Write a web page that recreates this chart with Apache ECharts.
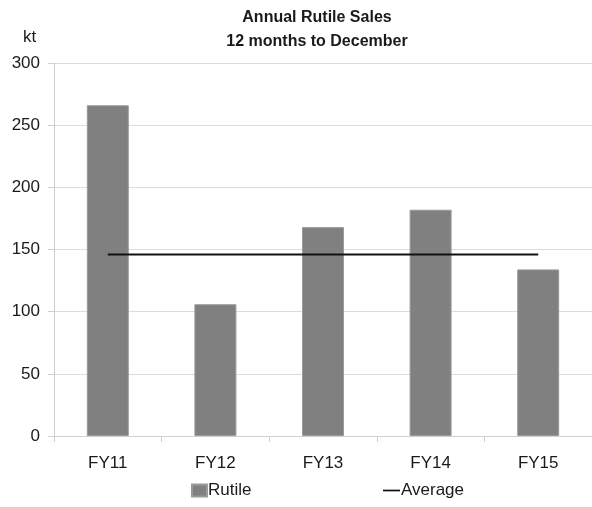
<!DOCTYPE html>
<html><head><meta charset="utf-8">
<script src="https://cdn.jsdelivr.net/npm/echarts@6/dist/echarts.min.js"></script>
<style>html,body{margin:0;padding:0;background:#fff}#c{width:592px;height:507px}</style>
</head><body><div id="c"></div>
<script>
const categories = ['FY11','FY12','FY13','FY14','FY15'];
const rutile = [266, 106, 168, 182, 134];
const average = [146, 146, 146, 146, 146];
const yTicks = [0, 50, 100, 150, 200, 250, 300];

const FONT = '"Liberation Sans Narrow","Arial Narrow","Liberation Sans",Arial,sans-serif';
const chart = echarts.init(document.getElementById('c'));
const legendText = { fontFamily: FONT, fontSize: 17, color: '#1a1a1a', padding: [0,0,0,-4] };
chart.setOption({
  animation: false,
  backgroundColor: '#fff',
  textStyle: { fontFamily: FONT },
  title: [
    { text: 'Annual Rutile Sales\n12 months to December', left: 312, top: 1, textAlign: 'center',
      textStyle: { fontFamily: FONT, fontSize: 16, fontWeight: 'bold', color: '#1a1a1a', lineHeight: 24 } },
    { text: 'kt', left: 18, top: 24,
      textStyle: { fontFamily: FONT, fontSize: 17, fontWeight: 'normal', color: '#1a1a1a' } }
  ],
  legend: [
    { left: 186, bottom: 3, itemWidth: 15, itemHeight: 12, textStyle: legendText,
      data: [{ name: 'Rutile', icon: 'rect' }] },
    { left: 378, bottom: 3, itemWidth: 17, itemHeight: 12, textStyle: legendText,
      data: [{ name: 'Average', icon: 'path://M0,5L20,5L20,7L0,7Z' }] }
  ],
  grid: { left: 54, right: -2, top: 63, bottom: 71, containLabel: false },
  xAxis: {
    type: 'category', data: categories,
    axisLine: { lineStyle: { color: '#d0d0d0', width: 1 } },
    axisTick: { show: true, length: 6, lineStyle: { color: '#d0d0d0' } },
    axisLabel: { fontFamily: FONT, fontSize: 17, color: '#1a1a1a', margin: 19 }
  },
  yAxis: {
    type: 'value', min: 0, max: 300, interval: 50,
    axisLine: { show: true, lineStyle: { color: '#d0d0d0', width: 1 } },
    axisTick: { show: true, length: 6, lineStyle: { color: '#d0d0d0' } },
    splitLine: { lineStyle: { color: '#dcdcdc', width: 1 } },
    axisLabel: { fontFamily: FONT, fontSize: 17, color: '#1a1a1a', margin: 14,
      formatter: v => yTicks.includes(v) ? String(v) : '' }
  },
  series: [
    { name: 'Rutile', type: 'bar', data: rutile, barWidth: 42,
      itemStyle: { color: '#808080', borderColor: '#9a9a9a', borderWidth: 1 } },
    { name: 'Average', type: 'line', data: average, symbol: 'none',
      lineStyle: { color: '#111', width: 2 }, itemStyle: { color: '#111' } }
  ]
});
</script></body></html>
